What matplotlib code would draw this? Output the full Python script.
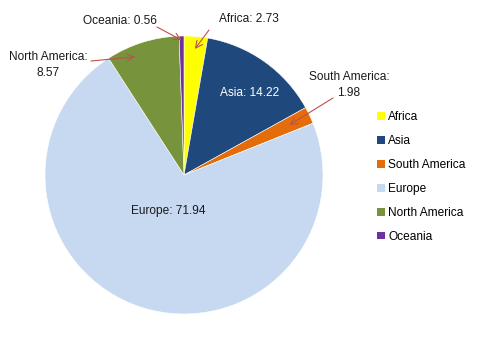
import numpy as np
import matplotlib
matplotlib.use('Agg')
import matplotlib.pyplot as plt
from matplotlib.patches import Patch

plt.rcParams['font.family'] = ['Liberation Sans', 'DejaVu Sans']

# datos
regions = ['Africa', 'Asia', 'South America', 'Europe', 'North America', 'Oceania']
values = [2.73, 14.22, 1.98, 71.94, 8.57, 0.56]
colors = ['#FFFF00', '#1F497D', '#E46C0A', '#C6D9F1', '#77933C', '#7030A0']
label_texts = ['Africa: 2.73', 'Asia: 14.22', 'South America:\n1.98', 'Europe: 71.94',
               'North America:\n8.57', 'Oceania: 0.56']

W, H = 495, 337
fig = plt.figure(figsize=(W / 100, H / 100), dpi=100)
ax = fig.add_axes([0, 0, 1, 1])

cx, cy, R = 184, H - 175, 139
wedges, _ = ax.pie(values, colors=colors, startangle=90, counterclock=False,
                   center=(cx, cy), radius=R, frame=True,
                   wedgeprops=dict(linewidth=0.4, edgecolor='white'))
ax.set_xlim(0, W)
ax.set_ylim(0, H)
ax.set_aspect('equal')
ax.axis('off')

arrow_col = '#C0504D'

def punto(w, frac, dang=0):
    ang = np.deg2rad((w.theta1 + w.theta2) / 2 + dang)
    return cx + R * frac * np.cos(ang), cy + R * frac * np.sin(ang)

# (texto x, texto y en pixeles desde arriba, fraccion del radio, desfase angular)
lab_pos = {
    'Africa': (249, 19, 0.91, 0),
    'Asia': (250, 93, None, 0),
    'South America': (349, 85, 0.84, 0),
    'Europe': (168, 211, None, 0),
    'North America': (48, 65, 0.92, 5),
    'Oceania': (120, 21, 0.97, 0),
}
arrow_start = {
    'Africa': (209, 30),
    'South America': (333, 98),
    'North America': (91, 61),
    'Oceania': (157, 27),
}

for w, reg, txt in zip(wedges, regions, label_texts):
    tx, ty, frac, dang = lab_pos[reg]
    col = 'white' if reg == 'Asia' else '#1a1a1a'
    ax.text(tx, H - ty, txt, ha='center', va='center', fontsize=8.6, color=col,
            linespacing=1.45)
    if frac is not None:
        sx, sy = arrow_start[reg]
        ax.annotate('', xy=punto(w, frac, dang), xytext=(sx, H - sy),
                    arrowprops=dict(arrowstyle='->,head_length=0.5,head_width=0.25',
                                    color=arrow_col, lw=0.8,
                                    shrinkA=0, shrinkB=0))

handles = [Patch(facecolor=c, edgecolor='none') for c in colors]
ax.legend(handles, regions, loc='upper left', bbox_to_anchor=(371 / W, 1 - 105 / H),
          frameon=False, fontsize=8.6, handlelength=0.65, handleheight=0.65,
          handletextpad=0.3, labelspacing=1.0, borderpad=0,
          bbox_transform=fig.transFigure)

fig.savefig('out.png', dpi=100)
